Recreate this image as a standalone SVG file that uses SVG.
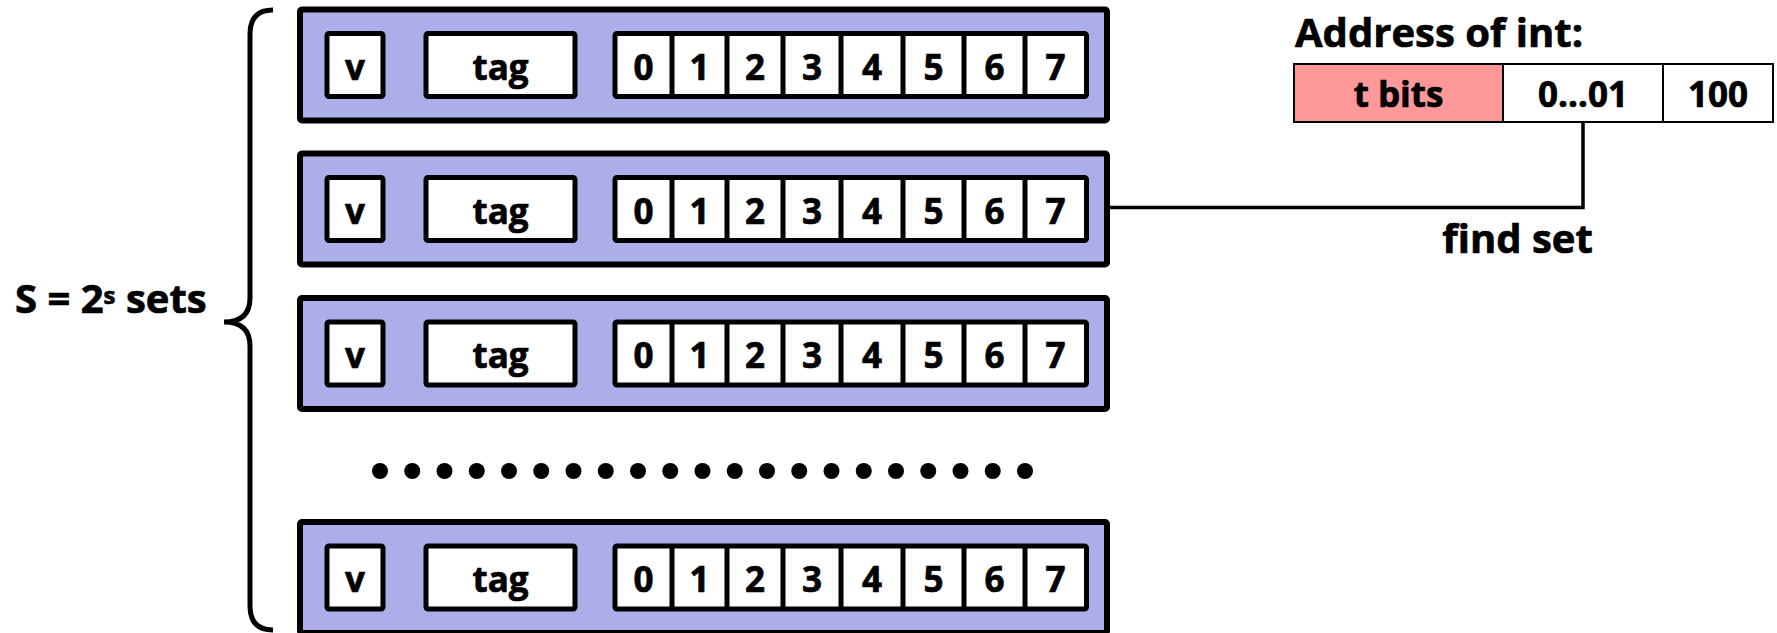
<svg xmlns="http://www.w3.org/2000/svg" width="1777" height="633" viewBox="0 0 1777 633">
<style>
text{font-family:"Open Sans","Liberation Sans",sans-serif;font-weight:bold;fill:#000;stroke:#000;stroke-width:0.7}
.row{fill:#ADADEA;stroke:#000;stroke-width:6}
.cell{fill:#fff;stroke:#000;stroke-width:5}
.div{stroke:#000;stroke-width:5}
.ct{font-size:35px;text-anchor:middle}
.lbl{font-size:40px}
.addr{stroke:#000;stroke-width:2}
.dot{fill:#000}
</style>
<defs>
<g id="rowtpl">
<rect class="row" x="300" y="0" width="807" height="111" rx="2"/>
<rect class="cell" x="327" y="24" width="56" height="63" rx="2"/>
<rect class="cell" x="426" y="24" width="149" height="63" rx="2"/>
<rect class="cell" x="615" y="24" width="471.5" height="63" rx="2"/>
<path class="div" d="M672,24V87M727,24V87M783,24V87M841,24V87M903,24V87M964,24V87M1025,24V87"/>
<text class="ct" x="355" y="70">v</text>
<text class="ct" x="500.5" y="70">tag</text>
<text class="ct" x="643.5" y="70">0</text>
<text class="ct" x="699.5" y="70">1</text>
<text class="ct" x="755" y="70">2</text>
<text class="ct" x="812" y="70">3</text>
<text class="ct" x="872" y="70">4</text>
<text class="ct" x="933.5" y="70">5</text>
<text class="ct" x="994.5" y="70">6</text>
<text class="ct" x="1055.5" y="70">7</text>
</g>
</defs>
<g id="brace">
<path d="M273,10 Q250,10 250,34 L250,298 Q250,322 224,322 Q250,322 250,346 L250,606 Q250,630 273,630" fill="none" stroke="#000" stroke-width="5"/>
<text class="lbl" x="15" y="313">S = 2<tspan font-size="24" dy="-9">s</tspan><tspan dy="9"> sets</tspan></text>
</g>
<g id="set1"><use href="#rowtpl" transform="translate(0,9.5)"/></g>
<g id="set2"><use href="#rowtpl" transform="translate(0,153.5)"/></g>
<g id="set3"><use href="#rowtpl" transform="translate(0,298)"/></g>
<g id="ellipsis">
<circle class="dot" cx="380" cy="471" r="8"/><circle class="dot" cx="412.25" cy="471" r="8"/><circle class="dot" cx="444.5" cy="471" r="8"/><circle class="dot" cx="476.75" cy="471" r="8"/><circle class="dot" cx="509" cy="471" r="8"/><circle class="dot" cx="541.25" cy="471" r="8"/><circle class="dot" cx="573.5" cy="471" r="8"/><circle class="dot" cx="605.75" cy="471" r="8"/><circle class="dot" cx="638" cy="471" r="8"/><circle class="dot" cx="670.25" cy="471" r="8"/><circle class="dot" cx="702.5" cy="471" r="8"/><circle class="dot" cx="734.75" cy="471" r="8"/><circle class="dot" cx="767" cy="471" r="8"/><circle class="dot" cx="799.25" cy="471" r="8"/><circle class="dot" cx="831.5" cy="471" r="8"/><circle class="dot" cx="863.75" cy="471" r="8"/><circle class="dot" cx="896" cy="471" r="8"/><circle class="dot" cx="928.25" cy="471" r="8"/><circle class="dot" cx="960.5" cy="471" r="8"/><circle class="dot" cx="992.75" cy="471" r="8"/><circle class="dot" cx="1025" cy="471" r="8"/>
</g>
<g id="setS"><use href="#rowtpl" transform="translate(0,522)"/></g>
<g id="address">
<text class="lbl" x="1295" y="47">Address of int:</text>
<rect class="addr" x="1294" y="64" width="209" height="58" fill="#FF9999"/>
<rect class="addr" x="1503" y="64" width="160" height="58" fill="#fff"/>
<rect class="addr" x="1663" y="64" width="110" height="58" fill="#fff"/>
<text class="ct" x="1398.5" y="107">t bits</text>
<text class="ct" x="1583" y="107">0…01</text>
<text class="ct" x="1718" y="107">100</text>
</g>
<g id="connectors">
<path d="M1107,207.5H1583V122" fill="none" stroke="#000" stroke-width="3.5"/>
<text class="lbl" x="1517.5" y="253" text-anchor="middle">find set</text>
</g>
</svg>
